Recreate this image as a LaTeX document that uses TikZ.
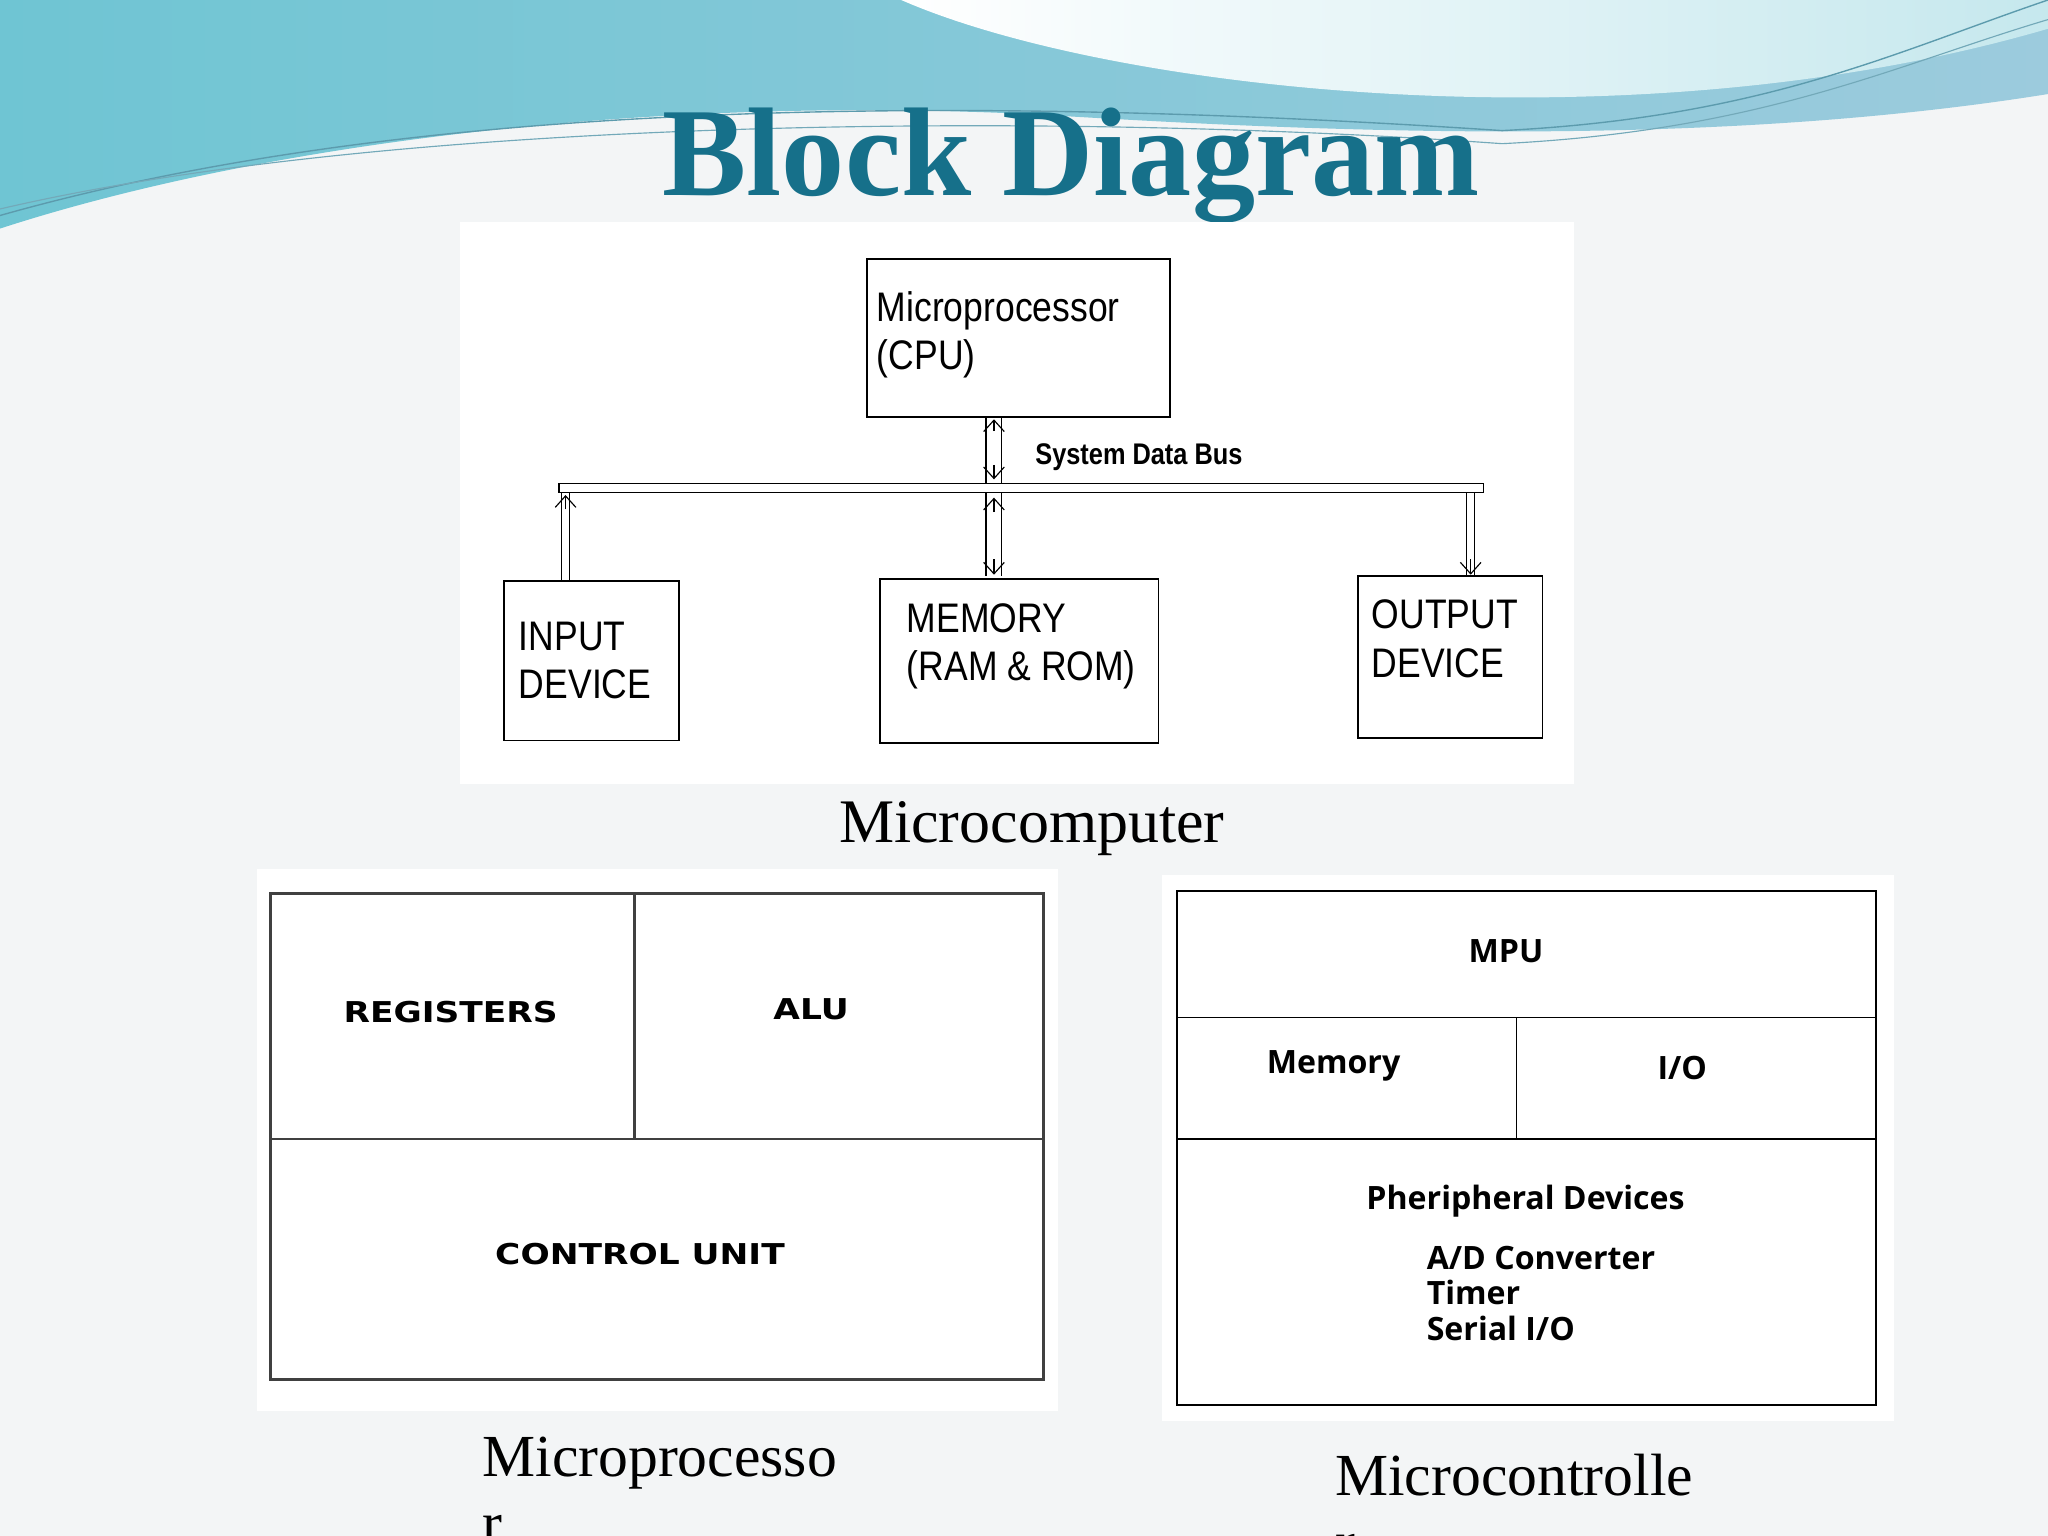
\documentclass[tikz,border=0pt]{standalone}
\usepackage{fontspec}
\setmainfont{Liberation Serif}
\newfontfamily\ssans{Liberation Sans}[FakeStretch=0.85]
\newfontfamily\hsans{Liberation Sans}[FakeStretch=0.86]
\newfontfamily\osans{Open Sans}
\newfontfamily\dsans{DejaVu Sans}[FakeStretch=1.2]
\usetikzlibrary{arrows.meta}
\definecolor{titlec}{HTML}{16708A}
\definecolor{wave1}{HTML}{6FC5D3}
\definecolor{wave2}{HTML}{9CCBDD}
\definecolor{bgc}{HTML}{F3F5F6}
\begin{document}
\begin{tikzpicture}[x=0.02cm,y=-0.02cm,
 box/.style={draw=black,line width=0.8pt},
 cpu/.style={font=\hsans\fontsize{18}{21}\selectfont,align=left,anchor=north west,inner sep=0},
 vb/.style={font=\dsans\bfseries\fontsize{12.5}{14}\selectfont},
 ob/.style={font=\osans\bfseries\fontsize{14}{15}\selectfont},
 captxt/.style={font=\fontsize{26}{29}\selectfont,align=left,anchor=north west,inner sep=0},
 tip/.style={-{Straight Barb[length=5pt,width=9pt]}, line width=0.5pt}]
\useasboundingbox (0,0) rectangle (1568,1176);
\fill[bgc] (0,0) rectangle (1568,1176);
% waves
\shade[left color=wave1,right color=wave2] (0,0)--(1568,0)--(1568,72) .. controls (1300,115) and (1000,100) .. (800,88) .. controls (500,72) and (200,110) .. (0,175) -- cycle;
\shade[left color=white,right color=wave1!40] (690,0) .. controls (850,70) and (1250,115) .. (1568,22) -- (1568,0) -- cycle;
\draw[titlec!70,line width=0.6pt] (0,165) .. controls (300,80) and (700,70) .. (1150,100) .. controls (1350,90) and (1450,40) .. (1568,0);
\draw[titlec!60,line width=0.5pt] (0,160) .. controls (300,90) and (800,85) .. (1150,110) .. controls (1350,100) and (1450,50) .. (1568,15);
\node[font=\bfseries\fontsize{55}{60}\selectfont,text=titlec] (title) at (820,127) {Block Diagram};
% top panel
\fill[white] (352,170) rectangle (1205,600);
\draw[box] (664,198) rectangle (896,319);
\node[cpu] (cpuT) at (671,223) {Microprocessor\\(CPU)};
\draw[box] (386,445) rectangle (520,567);
\node[cpu] (inT) at (397,476) {INPUT\\DEVICE};
\draw[box] (674,443) rectangle (887,569);
\node[cpu] (memT) at (694,462) {MEMORY\\(RAM \& ROM)};
\draw[box] (1040,441) rectangle (1181,565);
\node[cpu] (outT) at (1050,459) {OUTPUT\\DEVICE};
% bus
\draw[line width=0.6pt] (428,370) -- (1136,370) -- (1136,377) -- (428,377) -- cycle;
\draw[line width=0.6pt] (755,319) -- (755,370) (767,319) -- (767,370);
\draw[line width=0.6pt] (755,377) -- (755,441) (767,377) -- (767,441);
\draw[line width=0.6pt] (430,377) -- (430,445) (436,377) -- (436,445);
\draw[line width=0.6pt] (1123,377) -- (1123,441) (1129,377) -- (1129,441);
\draw[tip] (761,330) -- (761,321);
\draw[tip] (761,356) -- (761,367);
\draw[tip] (761,392) -- (761,381);
\draw[tip] (761,428) -- (761,440);
\draw[tip] (433,390) -- (433,379);
\draw[tip] (1126,428) -- (1126,440);
\node[font=\ssans\bfseries\fontsize{13}{15}\selectfont] (bus) at (872,350) {System Data Bus};
\node[font=\fontsize{27}{32}\selectfont] (mc) at (790,634) {Microcomputer};
% microprocessor panel
\fill[white] (197,665) rectangle (810,1080);
\draw[line width=1.2pt,black!75] (207,684) rectangle (799,1056);
\draw[line width=1.2pt,black!75] (486,684) -- (486,872) (207,872) -- (799,872);
\node[vb] (reg) at (345,775) {REGISTERS};
\node[vb] (alu) at (621,773) {ALU};
\node[vb] (cu) at (490,960) {CONTROL UNIT};
\node[captxt] (mpc) at (369,1100) {Microprocesso\\r};
% microcontroller
\fill[white] (890,670) rectangle (1450,1088);
\draw[box] (901,682) rectangle (1436,1076);
\draw[box] (901,779) -- (1436,779) (901,872) -- (1436,872) (1161,779) -- (1161,872);
\node[ob] (mpu) at (1153,728) {MPU};
\node[ob] (memo) at (1021,816) {Memory};
\node[ob] (io) at (1288,818) {I/O};
\node[ob] (ph) at (1168,920) {Pheripheral Devices};
\node[ob,align=left,anchor=north west,inner sep=0,font=\osans\bfseries\fontsize{14}{15.3}\selectfont] (list) at (1092,954) {A/D Converter\\Timer\\Serial I/O};
\node[captxt] (mcc) at (1022,1113) {Microcontrolle\\r};
\end{tikzpicture}
\end{document}
